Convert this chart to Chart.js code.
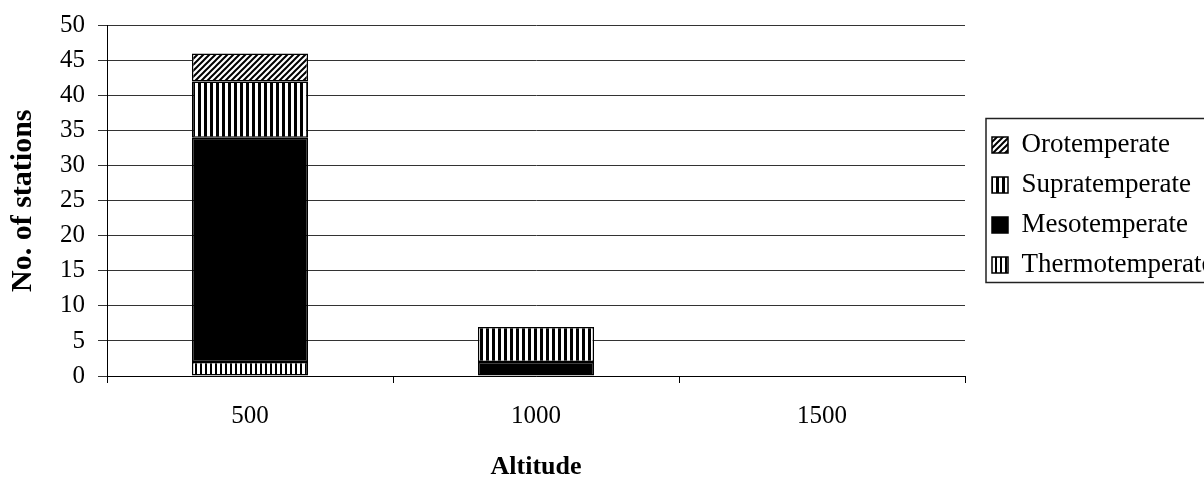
<!DOCTYPE html>
<html>
<head>
<meta charset="utf-8">
<title>Stations by altitude</title>
<script src="https://cdn.jsdelivr.net/npm/chart.js@4"></script>
<style>
    html, body { margin: 0; padding: 0; background: #fff; }
    #wrap { width: 1204px; height: 480px; position: relative; }
</style>
</head>
<body>
<div id="wrap"><canvas id="chart"></canvas></div>
<script>
// values (stations per belt)
const altitudes = ['500', '1000', '1500'];
const thermotemperate = [2, 0, 0];
const mesotemperate = [32, 2, 0];
const supratemperate = [8, 5, 0];
const orotemperate = [4, 0, 0];
const yMax = 50;
const yStep = 5;

const serif = '"Liberation Serif", "Times New Roman", serif';

// fill patterns like the old printed chart
function stripes(period, black) {
    const c = document.createElement('canvas');
    c.width = period;
    c.height = period;
    const ctx = c.getContext('2d');
    ctx.fillStyle = '#fff';
    ctx.fillRect(0, 0, period, period);
    ctx.fillStyle = '#000';
    ctx.fillRect(0, 0, black, period);
    return ctx.createPattern(c, 'repeat');
}

function hatch(size) {
    const c = document.createElement('canvas');
    c.width = size;
    c.height = size;
    const ctx = c.getContext('2d');
    ctx.fillStyle = '#fff';
    ctx.fillRect(0, 0, size, size);
    ctx.strokeStyle = '#000';
    ctx.lineWidth = 2;
    ctx.beginPath();
    ctx.moveTo(-1, size + 1); ctx.lineTo(size + 1, -1);
    ctx.moveTo(-1, 1); ctx.lineTo(1, -1);
    ctx.moveTo(size - 1, size + 1); ctx.lineTo(size + 1, size - 1);
    ctx.stroke();
    return ctx.createPattern(c, 'repeat');
}

function dataset(label, values, fill) {
    return {
        label: label,
        data: values,
        backgroundColor: fill,
        borderColor: '#000',
        borderWidth: 1.5,
        borderSkipped: false,
        barPercentage: 0.406,
        categoryPercentage: 1
    };
}

// legend: wider box, nudged right/up, with a frame
const legendFrame = {
    id: 'legendFrame',
    beforeLayout(chart) {
        const lg = chart.legend;
        if (lg && !lg._patched) {
            const fit = lg.fit;
            lg.fit = function () { fit.call(this); this.width = 239; };
            lg._patched = true;
        }
    },
    afterLayout(chart) {
        const lg = chart.legend;
        lg.left += 14;
        lg.right += 14;
        lg.top -= 37;
        lg.bottom -= 37;
    },
    afterDraw(chart) {
        const lg = chart.legend;
        const cy = (lg.top + lg.bottom) / 2;
        const ctx = chart.ctx;
        ctx.save();
        ctx.strokeStyle = '#222';
        ctx.lineWidth = 1.5;
        ctx.strokeRect(lg.left + 7, Math.round(cy - 87) + 0.5, 240, 164);
        ctx.restore();
    }
};

new Chart(document.getElementById('chart'), {
    type: 'bar',
    data: {
        labels: altitudes,
        datasets: [
            dataset('Thermotemperate', thermotemperate, stripes(5, 2)),
            dataset('Mesotemperate', mesotemperate, '#000'),
            dataset('Supratemperate', supratemperate, stripes(6, 3)),
            dataset('Orotemperate', orotemperate, hatch(6))
        ]
    },
    options: {
        responsive: true,
        maintainAspectRatio: false,
        animation: false,
        layout: { padding: { top: 4, left: 0, right: 0, bottom: 0 } },
        plugins: {
            tooltip: { enabled: false },
            legend: {
                position: 'right',
                reverse: true,
                labels: {
                    color: '#000',
                    font: { family: serif, size: 27 },
                    boxWidth: 16,
                    boxHeight: 16,
                    padding: 13
                }
            }
        },
        scales: {
            x: {
                stacked: true,
                afterFit(scale) { scale.height = 104; },
                grid: {
                    offset: true,
                    drawOnChartArea: false,
                    tickLength: 7,
                    color: '#000'
                },
                border: { display: true, color: '#000', width: 1 },
                ticks: {
                    color: '#000',
                    font: { family: serif, size: 25 },
                    padding: 18
                },
                title: {
                    display: true,
                    text: 'Altitude',
                    color: '#000',
                    font: { family: serif, size: 26, weight: 'bold', lineHeight: 1 },
                    padding: { top: 0, bottom: 0 }
                }
            },
            y: {
                stacked: true,
                min: 0,
                max: yMax,
                afterFit(scale) { scale.width = 107; },
                grid: {
                    color: '#333',
                    lineWidth: 1,
                    tickLength: 9
                },
                border: { display: true, color: '#000', width: 1 },
                ticks: {
                    stepSize: yStep,
                    color: '#000',
                    font: { family: serif, size: 25, lineHeight: 1 },
                    padding: 13
                },
                title: {
                    display: true,
                    text: 'No. of stations',
                    color: '#000',
                    font: { family: serif, size: 30, weight: 'bold', lineHeight: 1 },
                    padding: { top: 8, bottom: 0 }
                }
            }
        }
    },
    plugins: [legendFrame]
});
</script>
</body>
</html>
